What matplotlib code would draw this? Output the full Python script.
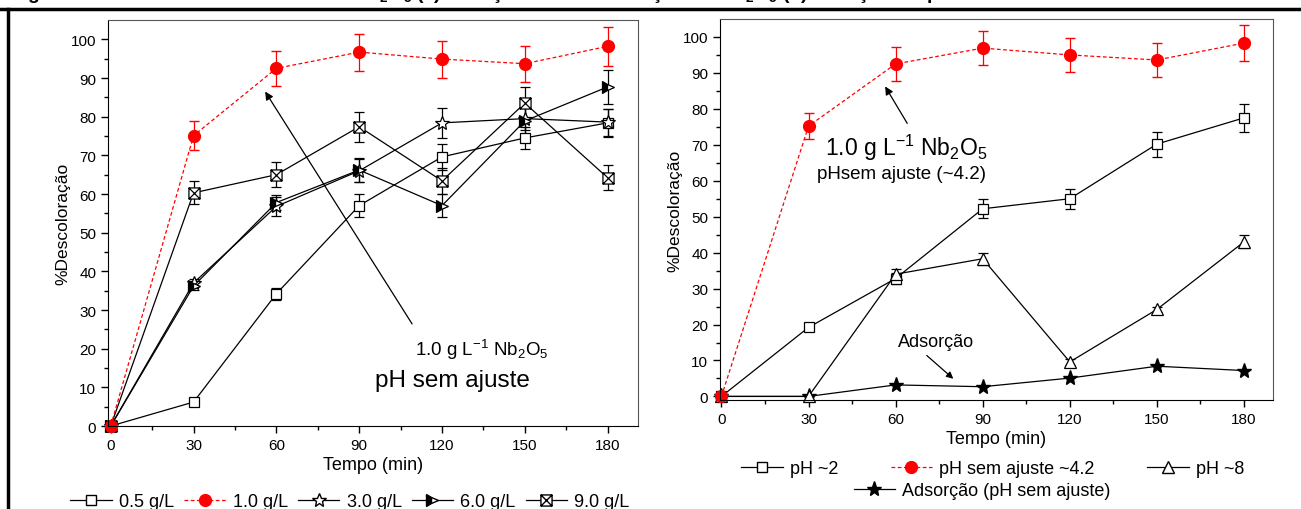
import matplotlib
matplotlib.use("Agg")
import matplotlib.pyplot as plt
from matplotlib.lines import Line2D
from matplotlib.path import Path

plt.rcParams["font.family"] = ["Liberation Sans", "DejaVu Sans"]
plt.rcParams["mathtext.fontset"] = "custom"
plt.rcParams["mathtext.rm"] = "Liberation Sans"
plt.rcParams["mathtext.default"] = "regular"

# -----------------------------
# data
# -----------------------------
tempo = [0, 30, 60, 90, 120, 150, 180]

# (a) concentration of Nb2O5
c05 = [0, 6.2, 34.2, 57.0, 69.6, 74.5, 78.4]
c05_err = [0, 1.0, 1.5, 2.9, 3.3, 2.8, 3.6]
c10 = [0, 75.1, 92.5, 96.7, 94.9, 93.7, 98.2]
c10_err = [0, 3.7, 4.6, 4.8, 4.8, 4.7, 5.0]
c30 = [0, 37.0, 56.8, 66.0, 78.4, 79.5, 78.6]
c30_err = [0, 1.0, 2.5, 3.0, 3.9, 3.0, 3.5]
c60 = [0, 36.2, 57.8, 66.2, 57.0, 78.9, 87.7]
c60_err = [0, 1.0, 2.0, 3.0, 3.0, 3.5, 4.5]
c90 = [0, 60.3, 65.0, 77.4, 63.4, 83.5, 64.2]
c90_err = [0, 3.0, 3.2, 3.9, 3.3, 4.1, 3.2]

# (b) pH
ph2 = [0, 19.2, 32.8, 52.2, 55.0, 70.2, 77.5]
ph2_err = [0, 0.8, 1.5, 2.6, 2.8, 3.5, 3.9]
ph42 = [0, 75.2, 92.5, 96.9, 95.0, 93.6, 98.3]
ph42_err = [0, 3.7, 4.7, 4.8, 4.8, 4.7, 4.9]
ph8 = [0, 0, 34.0, 38.3, 9.6, 24.2, 43.0]
ph8_err = [0, 0.3, 1.5, 1.7, 0.8, 0.8, 1.8]
adsorcao = [0, 0, 3.2, 2.7, 5.1, 8.4, 7.2]

# square with an X inside
box_x = Path(
    [(-1, -1), (1, -1), (1, 1), (-1, 1), (-1, -1), (-1, -1), (1, 1), (-1, 1), (1, -1)],
    [Path.MOVETO, Path.LINETO, Path.LINETO, Path.LINETO, Path.CLOSEPOLY,
     Path.MOVETO, Path.LINETO, Path.MOVETO, Path.LINETO],
)

red_ls = (0, (3, 2))
black = dict(color="black", lw=0.9, ecolor="black", elinewidth=0.9, capsize=3.5,
             markeredgecolor="black", markeredgewidth=0.9, clip_on=False)
red = dict(color="red", lw=0.9, ls=red_ls, ecolor="red", elinewidth=0.9, capsize=3.5,
           marker="o", ms=8.5, mfc="red", mec="red", clip_on=False)

fig = plt.figure(figsize=(13.01, 5.10), dpi=100)


def style_axes(ax, ymin):
    ax.set_xlim(-1, 191)
    ax.set_ylim(ymin, 105)
    ax.set_xticks(tempo)
    ax.set_xticks([15, 45, 75, 105, 135, 165], minor=True)
    ax.set_yticks(range(0, 101, 10))
    ax.set_yticks(range(5, 101, 10), minor=True)
    ax.tick_params(which="major", direction="out", length=5, width=1, labelsize=11)
    ax.tick_params(which="minor", direction="out", length=3, width=1)
    ax.tick_params(top=False, right=False)
    for s in ["top", "right"]:
        ax.spines[s].set_color("#555555")
    ax.set_xlabel("Tempo (min)", fontsize=13, labelpad=3)
    ax.set_ylabel("%Descoloração", fontsize=12.5, labelpad=0)


# -----------------------------
# (a) concentration
# -----------------------------
ax1 = fig.add_axes([0.083, 0.1627, 0.4074, 0.7961])
ax1.errorbar(tempo, c05, yerr=c05_err, marker="s", ms=7, mfc="white", **black)
ax1.errorbar(tempo, c30, yerr=c30_err, marker="*", ms=10, mfc="white", **black)
ax1.errorbar(tempo, c60, yerr=c60_err, marker=">", ms=8, fillstyle="left",
             mfc="black", mfcalt="white", **black)
ax1.errorbar(tempo, c90, yerr=c90_err, marker=box_x, ms=8, mfc="white", **black)
ax1.errorbar(tempo, c10, yerr=c10_err, **red)
style_axes(ax1, 0)

ax1.annotate("", xy=(55.4, 87.1), xytext=(109.7, 25.8),
             arrowprops=dict(arrowstyle="-|>", color="black", lw=0.9,
                             mutation_scale=12))
ax1.text(134.5, 19.9, "1.0 g L$^{-1}$ Nb$_2$O$_5$", fontsize=13.5, ha="center", va="center")
ax1.text(123.7, 11.9, "pH sem ajuste", fontsize=17.5, ha="center", va="center")

# -----------------------------
# (b) pH
# -----------------------------
ax2 = fig.add_axes([0.5534, 0.2137, 0.4251, 0.7471])
ax2.errorbar(tempo, ph2, yerr=ph2_err, marker="s", ms=7, mfc="white", **black)
ax2.errorbar(tempo, ph8, yerr=ph8_err, marker="^", ms=9, mfc="white", **black)
ax2.plot(tempo, adsorcao, marker="*", ms=11, color="black", lw=0.9, clip_on=False)
ax2.errorbar(tempo, ph42, yerr=ph42_err, **red)
style_axes(ax2, -1)
ax2.set_xlim(-0.5, 190)

ax2.annotate("", xy=(55.9, 86.9), xytext=(64.5, 75.3),
             arrowprops=dict(arrowstyle="-|>", color="black", lw=0.9,
                             mutation_scale=12))
ax2.text(63.8, 69.4, "1.0 g L$^{-1}$ Nb$_2$O$_5$", fontsize=16.5, ha="center", va="center")
ax2.text(62, 62, "pHsem ajuste (~4.2)", fontsize=13.5, ha="center", va="center")
ax2.annotate("", xy=(80.6, 4.4), xytext=(70, 11.9),
             arrowprops=dict(arrowstyle="-|>", color="black", lw=0.9,
                             mutation_scale=10))
ax2.text(74, 15.3, "Adsorção", fontsize=13, ha="center", va="center")

# -----------------------------
# legends
# -----------------------------
h_sq = Line2D([], [], color="black", lw=0.9, marker="s", ms=7, mfc="white", mec="black")
h_red = Line2D([], [], color="red", lw=0.9, ls=red_ls, marker="o", ms=8.5, mfc="red", mec="red")
h_star = Line2D([], [], color="black", lw=0.9, marker="*", ms=10, mfc="white", mec="black")
h_tri = Line2D([], [], color="black", lw=0.9, marker=">", ms=8, fillstyle="left",
               mfc="black", mfcalt="white", mec="black")
h_box = Line2D([], [], color="black", lw=0.9, marker=box_x, ms=8, mfc="white", mec="black")
h_up = Line2D([], [], color="black", lw=0.9, marker="^", ms=9, mfc="white", mec="black")
h_ads = Line2D([], [], color="black", lw=0.9, marker="*", ms=11)

leg_kw = dict(frameon=False, fontsize=13, handlelength=2.3, handletextpad=0.4,
              borderpad=0, borderaxespad=0, loc="center")
fig.legend([h_sq, h_red, h_star, h_tri, h_box],
           ["0.5 g/L", "1.0 g/L", "3.0 g/L", "6.0 g/L", "9.0 g/L"],
           ncol=5, columnspacing=0.55, bbox_to_anchor=(0.269, 1 - 503 / 510), **leg_kw)
fig.legend([h_sq, h_red, h_up], ["pH ~2", "pH sem ajuste ~4.2", "pH ~8"],
           ncol=3, columnspacing=2.9, bbox_to_anchor=(0.763, 1 - 470 / 510), **leg_kw)
fig.legend([h_ads], ["Adsorção (pH sem ajuste)"],
           bbox_to_anchor=(0.755, 1 - 492 / 510), **leg_kw)

# -----------------------------
# page frame and clipped caption
# -----------------------------
fig.add_artist(Line2D([0, 1], [1 - 10 / 510] * 2, color="black", lw=2.5))
fig.add_artist(Line2D([8 / 1301] * 2, [0, 1 - 10 / 510], color="black", lw=2.5))
fig.text(0.008, 1 + 1 / 510,
         "Figura 5 - Testes fotocatalíticos com Nb$_2$O$_5$ (a) variação da concentração de "
         "Nb$_2$O$_5$ (b) variação do pH",
         fontsize=14, fontweight="bold", ha="left", va="baseline")

fig.savefig("out.png", dpi=100)
